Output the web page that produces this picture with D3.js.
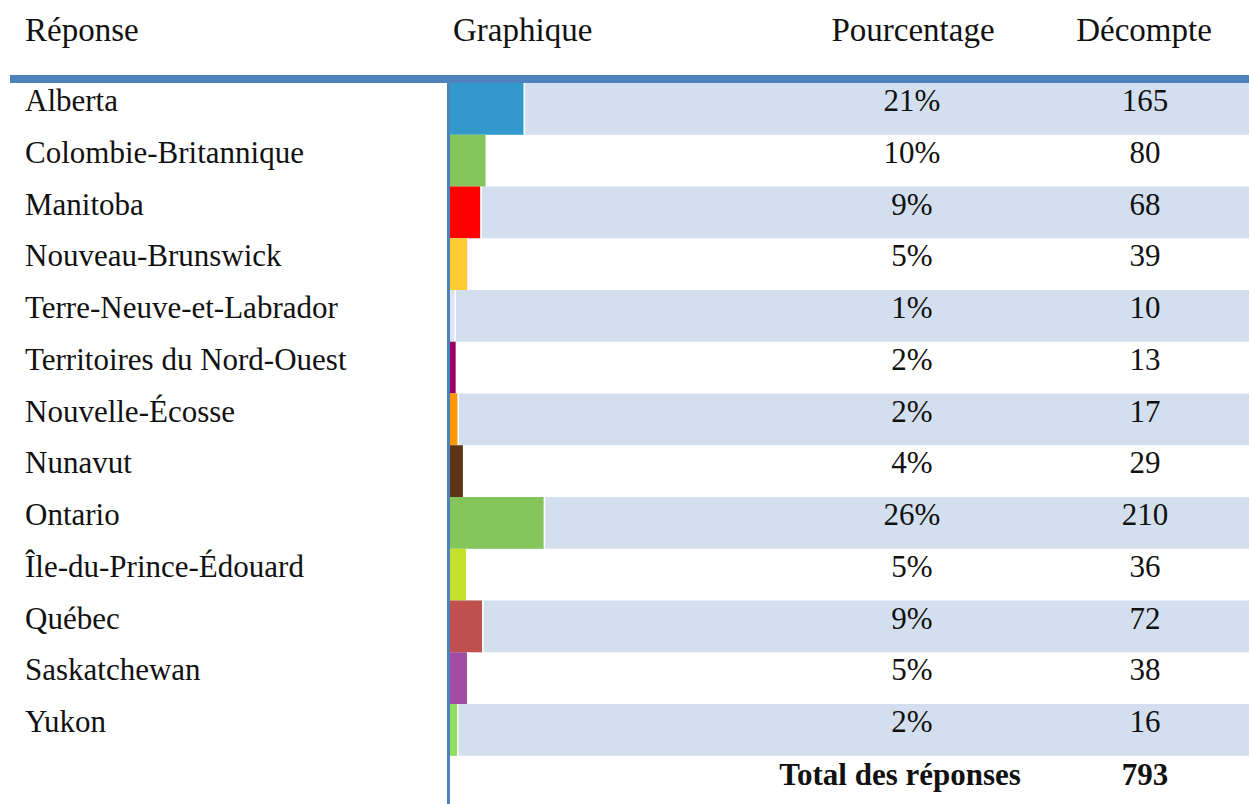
<!DOCTYPE html>
<html>
  <head>
    <meta charset="utf-8" />
    <title>Réponses par province</title>
    <script src="https://cdn.jsdelivr.net/npm/d3@7"></script>
    <style>
      body { margin: 0; background: #fff; }
      text { font-family: "Liberation Serif", "Times New Roman", serif; fill: #111; }
      .head { font-size: 33px; }
      .cell { font-size: 31px; }
      .total { font-size: 31px; font-weight: bold; }
    </style>
  </head>
  <body>
    <svg width="1249" height="804"></svg>
  <script>
    var provinces = ["Alberta", "Colombie-Britannique", "Manitoba", "Nouveau-Brunswick",
      "Terre-Neuve-et-Labrador", "Territoires du Nord-Ouest", "Nouvelle-Écosse", "Nunavut",
      "Ontario", "Île-du-Prince-Édouard", "Québec", "Saskatchewan", "Yukon"];
    var counts = [165, 80, 68, 39, 10, 13, 17, 29, 210, 36, 72, 38, 16];
    var pctLabels = ["21%", "10%", "9%", "5%", "1%", "2%", "2%", "4%", "26%", "5%", "9%", "5%", "2%"];
    var barColors = ["#3399CC", "#84C55C", "#FF0000", "#FFCC33", "#DCE6F2", "#990066",
      "#FF9900", "#5C3317", "#84C55C", "#C3E02A", "#C0504D", "#A04DA3", "#8FE05F"];
    var headers = ["Réponse", "Graphique", "Pourcentage", "Décompte"];
    var totalLabel = "Total des réponses";
    var total = 793;

    var svg = d3.select("svg"),
        W = +svg.attr("width"), H = +svg.attr("height");

    var topY = 83, rowH = 51.75, barX = 450;

    var y = d3.scaleBand()
      .domain(d3.range(provinces.length))
      .range([topY, topY + rowH * provinces.length]);

    var x = d3.scaleLinear()
      .domain([0, 1])
      .range([barX, barX + 354]);

    // header
    var headX = [25, 453, 913, 1144],
        headAnchor = ["start", "start", "middle", "middle"];
    svg.selectAll(".head").data(headers).enter().append("text")
      .attr("class", "head")
      .attr("x", function(d, i) { return headX[i]; })
      .attr("y", 41)
      .attr("text-anchor", function(d, i) { return headAnchor[i]; })
      .text(function(d) { return d; });

    // shaded rows (every other one)
    svg.selectAll(".band")
      .data(d3.range(provinces.length).filter(function(i) { return i % 2 == 0; }))
      .enter().append("rect")
        .attr("class", "band")
        .attr("x", barX)
        .attr("y", function(i) { return y(i); })
        .attr("width", W - barX)
        .attr("height", y.bandwidth())
        .attr("fill", "#D3DFEE");

    // bars
    var rows = svg.selectAll(".row").data(provinces).enter().append("g")
      .attr("class", "row")
      .attr("transform", function(d, i) { return "translate(0," + y(i) + ")"; });

    rows.append("rect")
      .attr("x", barX)
      .attr("y", 0)
      .attr("width", function(d, i) { return x(counts[i] / total) - barX; })
      .attr("height", y.bandwidth())
      .attr("fill", function(d, i) { return barColors[i]; });

    rows.append("line")
      .attr("x1", function(d, i) { return x(counts[i] / total) + 0.75; })
      .attr("x2", function(d, i) { return x(counts[i] / total) + 0.75; })
      .attr("y1", 0)
      .attr("y2", y.bandwidth())
      .attr("stroke", "#fff")
      .attr("stroke-width", 1.5);

    rows.append("text")
      .attr("class", "cell")
      .attr("x", 25)
      .attr("y", 28)
      .text(function(d) { return d; });

    rows.append("text")
      .attr("class", "cell")
      .attr("x", 912)
      .attr("y", 28)
      .attr("text-anchor", "middle")
      .text(function(d, i) { return pctLabels[i]; });

    rows.append("text")
      .attr("class", "cell")
      .attr("x", 1145)
      .attr("y", 28)
      .attr("text-anchor", "middle")
      .text(function(d, i) { return counts[i]; });

    // total row
    svg.append("text")
      .attr("class", "total")
      .attr("x", 900)
      .attr("y", 785)
      .attr("text-anchor", "middle")
      .text(totalLabel);
    svg.append("text")
      .attr("class", "total")
      .attr("x", 1145)
      .attr("y", 785)
      .attr("text-anchor", "middle")
      .text(total);

    // rules
    svg.append("rect")
      .attr("x", 10).attr("y", 75)
      .attr("width", W - 10).attr("height", 8)
      .attr("fill", "#4F81BD");
    svg.append("rect")
      .attr("x", 447).attr("y", 83)
      .attr("width", 3).attr("height", H - 83)
      .attr("fill", "#4F81BD");
  </script>
  </body>
</html>
